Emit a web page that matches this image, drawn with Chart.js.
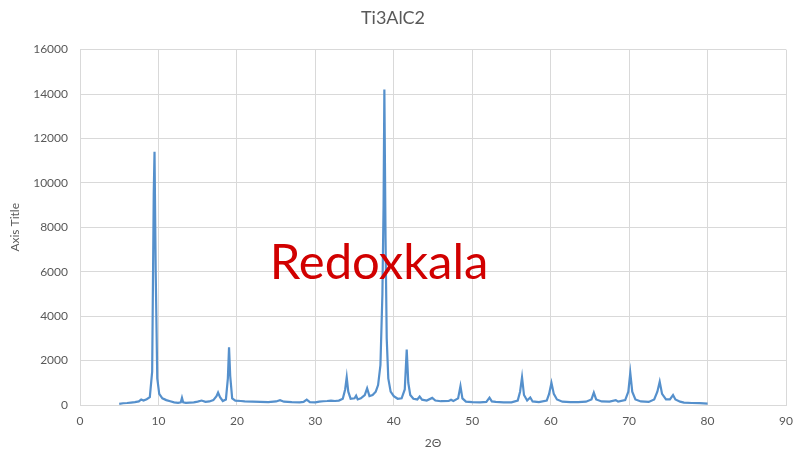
<!DOCTYPE html>
<html>
<head>
<meta charset="utf-8">
<script src="https://cdn.jsdelivr.net/npm/chart.js@4.4.1/dist/chart.umd.min.js"></script>
<style>
  html, body { margin: 0; padding: 0; background: #fff; }
  #wrap { position: relative; width: 795px; height: 454px; }
  #mark {
    position: absolute; left: 0; width: 758px; top: 231px; text-align: center;
    font-family: Lato, 'Open Sans', sans-serif; font-size: 49px; color: #d10000;
    pointer-events: none;
  }
</style>
</head>
<body>
<div id="wrap">
  <canvas id="xrd" width="795" height="454"></canvas>
  <div id="mark">Redoxkala</div>
</div>
<script>
// values
const twoTheta = [
  5.0, 5.5, 6.0, 6.5, 7.0, 7.5, 7.8, 8.1, 8.5, 8.9, 9.2, 9.4, 9.5, 9.65, 9.85, 10.1, 10.5, 11.0, 11.5, 12.0,
  12.5, 12.85, 13.0, 13.15, 13.5, 14.0, 14.5, 15.0, 15.5, 16.0, 16.5, 17.0, 17.4, 17.6, 17.85, 18.2, 18.6, 18.85, 19.0, 19.15,
  19.4, 19.8, 20.5, 21.0, 22.0, 23.0, 24.0, 25.0, 25.5, 26.0, 27.0, 28.0, 28.5, 28.9, 29.3, 30.0, 30.5, 31.0, 31.5, 32.0,
  32.5, 33.0, 33.5, 33.8, 34.0, 34.2, 34.5, 35.0, 35.2, 35.4, 35.8, 36.3, 36.6, 36.9, 37.3, 37.7, 38.0, 38.3, 38.55, 38.7,
  38.8, 38.95, 39.1, 39.3, 39.6, 40.0, 40.5, 41.0, 41.4, 41.65, 41.85, 42.1, 42.5, 43.0, 43.3, 43.6, 44.2, 44.9, 45.3, 46.0,
  47.0, 47.3, 47.6, 48.2, 48.5, 48.75, 49.2, 50.0, 51.0, 51.8, 52.2, 52.5, 53.0, 54.0, 55.0, 55.8, 56.1, 56.35, 56.6, 57.0,
  57.4, 57.7, 58.5, 59.5, 59.8, 60.1, 60.4, 60.8, 61.5, 62.5, 63.5, 64.5, 65.2, 65.5, 65.8, 66.5, 67.5, 68.3, 68.6, 69.5,
  69.9, 70.15, 70.4, 70.8, 71.5, 72.5, 73.2, 73.6, 73.9, 74.2, 74.7, 75.2, 75.6, 75.9, 76.5, 77.0, 78.0, 79.0, 80.0
];
const intensity = [
  50, 80, 90, 110, 130, 160, 250, 200, 260, 350, 1500, 9500, 11400, 6000, 1200, 500, 300, 220, 170, 120,
  100, 120, 320, 120, 100, 110, 120, 150, 200, 140, 160, 220, 400, 560, 350, 180, 250, 1200, 2600, 1300,
  300, 200, 180, 160, 150, 140, 130, 160, 220, 150, 130, 120, 140, 240, 130, 120, 150, 170, 180, 200,
  180, 200, 280, 700, 1250, 600, 280, 300, 420, 250, 300, 450, 750, 400, 450, 600, 900, 1800, 5000, 9000,
  14200, 7500, 3000, 1200, 600, 400, 280, 300, 700, 2500, 1000, 450, 280, 250, 380, 240, 200, 320, 200, 170,
  180, 240, 180, 300, 850, 300, 150, 130, 120, 140, 330, 160, 140, 120, 120, 200, 600, 1250, 450, 200,
  340, 160, 130, 200, 500, 1000, 500, 250, 150, 130, 130, 150, 250, 560, 250, 160, 150, 220, 150, 220,
  600, 1450, 600, 250, 160, 140, 250, 600, 1050, 500, 250, 250, 450, 250, 150, 110, 90, 80, 60
];
const xTicks = [0, 10, 20, 30, 40, 50, 60, 70, 80, 90];
const yTicks = [0, 2000, 4000, 6000, 8000, 10000, 12000, 14000, 16000];

const FONT = "Lato, 'Open Sans', sans-serif";
const TEXT = '#595959';
const GRID = '#d9d9d9';

new Chart(document.getElementById('xrd'), {
  type: 'line',
  data: {
    datasets: [{
      data: twoTheta.map((x, i) => ({ x, y: intensity[i] })),
      borderColor: '#5590cc',
      borderWidth: 2.2,
      pointRadius: 0,
      tension: 0,
      fill: false
    }]
  },
  options: {
    responsive: false,
    animation: false,
    layout: { padding: { left: 0, right: 9, top: 0, bottom: 0 } },
    plugins: {
      legend: { display: false },
      tooltip: { enabled: false },
      title: {
        display: true,
        text: 'Ti3AlC2',
        color: TEXT,
        font: { family: FONT, size: 18, weight: 'normal' },
        padding: { top: 7, bottom: 21 }
      }
    },
    scales: {
      x: {
        type: 'linear',
        min: 0,
        max: 90,
        afterBuildTicks: s => { s.ticks = xTicks.map(v => ({ value: v })); },
        afterFit: s => { s.height = 49; s.paddingLeft = 0; s.paddingRight = 0; },
        grid: { color: GRID, drawTicks: false },
        border: { color: GRID },
        ticks: { color: TEXT, padding: 9, font: { family: FONT, size: 12 }, callback: v => String(v) },
        title: {
          display: true, text: '2Θ', color: TEXT, padding: { top: 3 },
          font: { family: FONT, size: 12 }
        }
      },
      y: {
        min: 0,
        max: 16000,
        afterBuildTicks: s => { s.ticks = yTicks.map(v => ({ value: v })); },
        afterFit: s => { s.width = 80; },
        grid: { color: GRID, drawTicks: false },
        border: { display: false },
        ticks: { color: TEXT, padding: 12, font: { family: FONT, size: 12 }, callback: v => String(v) },
        title: {
          display: true, text: 'Axis Title', color: TEXT, padding: { top: 8, bottom: 0 },
          font: { family: FONT, size: 12 }
        }
      }
    }
  }
});
</script>
</body>
</html>
